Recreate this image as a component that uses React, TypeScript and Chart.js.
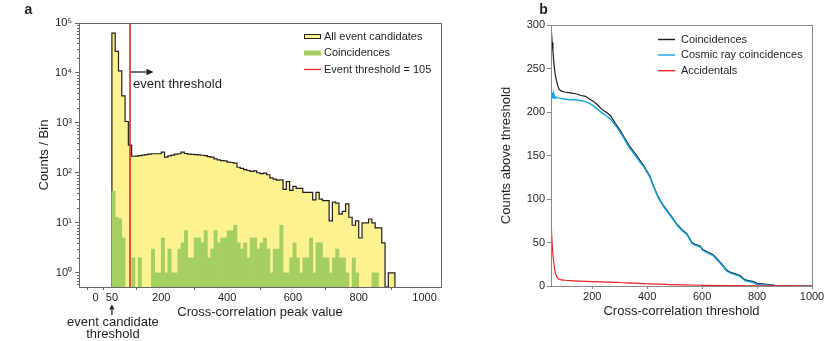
import React, { useEffect, useRef } from 'react';
import { Chart, registerables } from 'chart.js';

Chart.register(...registerables);

const FONT = '"Liberation Sans", Arial, Helvetica, sans-serif';
const TEXT = '#231f20';
const FRAME_A = '#666666';
const FRAME_B = '#8a8a8a';
const YELLOW = '#fcf290';
const GREEN = '#a6cf62';
const OUTLINE = '#231f20';
const RED = '#ec2227';
const BLUE = '#10a3e3';

Chart.defaults.font.family = FONT;
Chart.defaults.color = TEXT;

// ---------------- Panel a : histogram ----------------
const BIN_START = 50;
const BIN_WIDTH = 10;
const EVENT_THRESHOLD = 105;
const allCandidates = [
  63000, 27000, 11000, 3500, 1070, 360,
  216, 218, 223, 228, 233, 238, 242, 242, 242, 260,
  207, 220, 228, 238, 242, 260, 245, 238, 236, 232,
  230, 226, 223, 213, 207, 192, 182, 177, 175, 165,
  162, 157, 130, 124, 117, 112, 108, 110, 101, 97,
  99, 92, 80, 75, 72, 73, 47, 67, 45, 54,
  49, 49, 41, 41, 41, 29, 41, 30, 28, 28,
  11, 26, 25, 15, 17, 24, 13, 9, 11, 5,
  10, 10, 12, 10, 8, 8, 4, 0, 1, 1,
];
const coincidenceCounts = [
  43, 13, 12, 5, 0, 0, 2, 0, 2, 0,
  0, 0, 3, 1, 1, 5, 1, 3, 1, 1,
  3, 4, 7, 2, 2, 5, 5, 4, 7, 2,
  3, 7, 4, 5, 5, 7, 7, 9, 4, 3,
  4, 2, 5, 5, 3, 4, 5, 3, 1, 3,
  3, 9, 1, 1, 2, 4, 2, 1, 2, 2,
  5, 1, 4, 4, 2, 2, 1, 2, 3, 2,
  2, 1, 0, 2, 1, 0, 0, 0, 0, 1,
  1, 0, 0, 0, 0, 0,
];
const histXTicks = [0, 50, 200, 400, 600, 800, 1000];
const histYTicks = [1, 10, 100, 1000, 10000, 100000];
const histYTickLabels = ['10⁰', '10¹', '10²', '10³', '10⁴', '10⁵'];
const histMinorTicks = [0.6, 0.7, 0.8, 0.9, 2, 3, 4, 5, 6, 7, 8, 9, 20, 30, 40, 50, 60, 70, 80, 90,
  200, 300, 400, 500, 600, 700, 800, 900, 2000, 3000, 4000, 5000, 6000, 7000, 8000, 9000,
  20000, 30000, 40000, 50000, 60000, 70000, 80000, 90000];
const Y_MIN = 0.523;
const Y_MAX = 100000;

// ---------------- Panel b : cumulative counts ----------------
const coincT = [50, 54, 57, 60, 63, 66, 70, 75, 80, 88, 100, 120, 140, 160, 175, 190, 205, 220, 235, 250, 266, 284, 302, 320, 338, 357, 375, 390, 399, 410, 423, 441, 460, 484, 508, 526, 545, 563, 575, 593, 602, 620, 640, 655, 672, 690, 702, 720, 738, 757, 787, 800, 835, 860, 872, 1000];
const coincV = [300, 280, 270, 258, 249, 242, 236, 230, 226, 224, 223, 222, 221, 219, 218, 215, 212, 208, 203, 200, 196, 187, 179, 169, 160, 152, 144, 137, 132, 126, 115, 102, 92, 82, 71, 65, 60, 50, 48, 46, 42, 39, 36, 31, 25, 18, 16, 14, 12, 7, 5, 3, 2, 1, 0, 0];
const cosmicT = [50, 52, 54, 56, 58, 60, 63, 66, 70, 80, 100, 120, 140, 160, 175, 190, 205, 220, 235, 250, 266, 284, 302, 320, 338, 357, 375, 390, 399, 410, 423, 441, 460, 484, 508, 526, 545, 563, 575, 593, 602, 620, 640, 655, 672, 690, 702, 720, 738, 757, 787, 800, 835, 860, 866];
const cosmicV = [218, 223, 217, 222, 216, 221, 218, 216, 217, 216, 215, 214, 214, 213, 212, 210, 207, 203, 199, 196, 192, 185, 177, 167, 158, 150, 142, 136, 131, 125, 114, 101, 91, 81, 70, 64, 59, 49, 47, 45, 41, 38, 35, 30, 24, 17, 15, 13, 11, 6, 4, 2, 1, 1, 0];
const accT = [50, 52, 54, 57, 60, 63, 66, 70, 75, 80, 90, 100, 130, 200, 250, 300, 350, 400, 470, 530, 600, 700, 800, 900, 1000];
const accV = [80, 62, 50, 36, 27, 20, 15, 11.5, 9, 7.8, 7, 6.6, 6, 5, 4.5, 4, 3.2, 2.6, 1.8, 1.2, 0.8, 0.4, 0.15, 0.05, 0];
const rightXTicks = [200, 400, 600, 800, 1000];
const rightYTicks = [0, 50, 100, 150, 200, 250, 300];

function drawArrow(ctx: CanvasRenderingContext2D, x1: number, y1: number, x2: number, y2: number, head: number, halfW: number) {
  const ang = Math.atan2(y2 - y1, x2 - x1);
  const bx = x2 - head * Math.cos(ang);
  const by = y2 - head * Math.sin(ang);
  ctx.beginPath();
  ctx.moveTo(x1, y1);
  ctx.lineTo(bx, by);
  ctx.stroke();
  ctx.beginPath();
  ctx.moveTo(x2, y2);
  ctx.lineTo(bx + halfW * Math.sin(ang), by - halfW * Math.cos(ang));
  ctx.lineTo(bx - halfW * Math.sin(ang), by + halfW * Math.cos(ang));
  ctx.closePath();
  ctx.fill();
}

const panelAPlugin = {
  id: 'panelA',
  afterDraw(chart: any) {
    const { ctx, chartArea: ca, scales } = chart;
    const x = scales.x;
    const y = scales.y;
    ctx.save();
    // frame
    ctx.strokeStyle = FRAME_A;
    ctx.lineWidth = 1;
    ctx.strokeRect(Math.floor(ca.left) + 0.5, Math.floor(ca.top) + 0.5, Math.round(ca.right - ca.left), Math.round(ca.bottom - ca.top));
    // minor log ticks
    ctx.beginPath();
    histMinorTicks.forEach((v) => {
      const py = Math.round(y.getPixelForValue(v)) + 0.5;
      ctx.moveTo(ca.left - 2, py);
      ctx.lineTo(ca.left, py);
    });
    ctx.stroke();

    // legend
    const ds = chart.data.datasets;
    const lx = 304;
    ctx.font = `11px ${FONT}`;
    ctx.textBaseline = 'middle';
    ctx.textAlign = 'left';
    ctx.fillStyle = YELLOW;
    ctx.fillRect(lx, 34, 17, 5);
    ctx.strokeStyle = OUTLINE;
    ctx.strokeRect(lx + 0.5, 34.5, 16, 4);
    ctx.fillStyle = TEXT;
    ctx.fillText(ds[0].label, 324, 36.5);
    ctx.fillStyle = GREEN;
    ctx.fillRect(lx, 50.5, 17, 5);
    ctx.fillStyle = TEXT;
    ctx.fillText(ds[1].label, 324, 53);
    ctx.strokeStyle = RED;
    ctx.lineWidth = 1.3;
    ctx.beginPath();
    ctx.moveTo(lx, 69.5);
    ctx.lineTo(lx + 17, 69.5);
    ctx.stroke();
    ctx.fillStyle = TEXT;
    ctx.fillText(ds[2].label, 324, 69.5);

    // event threshold annotation
    const tx = x.getPixelForValue(EVENT_THRESHOLD);
    ctx.strokeStyle = TEXT;
    ctx.fillStyle = TEXT;
    ctx.lineWidth = 1.3;
    drawArrow(ctx, tx + 1, 72, tx + 23.5, 72, 7, 3.3);
    ctx.font = `13px ${FONT}`;
    ctx.textBaseline = 'alphabetic';
    ctx.fillText('event threshold', tx + 3, 87.5);

    // event candidate threshold annotation
    const cx = x.getPixelForValue(BIN_START);
    ctx.lineWidth = 1.2;
    drawArrow(ctx, cx, ca.bottom + 28, cx, ca.bottom + 17.5, 5, 2.6);
    ctx.textAlign = 'center';
    ctx.textBaseline = 'middle';
    ctx.fillText('event candidate', cx + 1, 322);
    ctx.fillText('threshold', cx + 1, 334.5);

    // panel label
    ctx.font = `bold 14px ${FONT}`;
    ctx.textAlign = 'center';
    ctx.textBaseline = 'alphabetic';
    ctx.fillText('a', 28.5, 13.5);
    ctx.restore();
  },
};

const panelBPlugin = {
  id: 'panelB',
  afterDraw(chart: any) {
    const { ctx, chartArea: ca } = chart;
    ctx.save();
    ctx.strokeStyle = FRAME_B;
    ctx.lineWidth = 1;
    ctx.strokeRect(Math.floor(ca.left) + 0.5, Math.floor(ca.top) + 0.5, Math.round(ca.right - ca.left), Math.round(ca.bottom - ca.top));
    const ds = chart.data.datasets;
    const rows = [39.5, 55, 70.7];
    ctx.font = `11px ${FONT}`;
    ctx.textBaseline = 'middle';
    ctx.textAlign = 'left';
    ds.forEach((d: any, i: number) => {
      ctx.strokeStyle = d.borderColor;
      ctx.lineWidth = 1.4;
      ctx.beginPath();
      ctx.moveTo(198, rows[i]);
      ctx.lineTo(215, rows[i]);
      ctx.stroke();
      ctx.fillStyle = TEXT;
      ctx.fillText(d.label, 221, rows[i]);
    });
    ctx.font = `bold 14px ${FONT}`;
    ctx.textAlign = 'center';
    ctx.textBaseline = 'alphabetic';
    ctx.fillStyle = TEXT;
    ctx.fillText('b', 83.5, 13.5);
    ctx.restore();
  },
};

export default function App() {
  const refA = useRef<HTMLCanvasElement>(null);
  const refB = useRef<HTMLCanvasElement>(null);

  useEffect(() => {
    const edges = allCandidates.map((_, i) => BIN_START + i * BIN_WIDTH);
    const outline = [
      { x: edges[0], y: Y_MIN },
      ...allCandidates.map((v, i) => ({ x: edges[i], y: v > 0 ? v : Y_MIN })),
      { x: edges[edges.length - 1] + BIN_WIDTH, y: Y_MIN },
    ];
    const greenBars = coincidenceCounts.map((v, i) => ({ x: edges[i] + BIN_WIDTH / 2, y: v > 0 ? v : null }));

    const tickFont = { size: 11, family: FONT };
    const titleFont = { size: 13, family: FONT };

    const chartA = new Chart(refA.current as HTMLCanvasElement, {
      type: 'line',
      data: {
        datasets: [
          {
            type: 'line',
            label: 'All event candidates',
            data: outline,
            stepped: 'before',
            borderColor: OUTLINE,
            borderWidth: 1.2,
            backgroundColor: YELLOW,
            fill: 'start',
            pointRadius: 0,
            order: 2,
          },
          {
            type: 'bar',
            label: 'Coincidences',
            data: greenBars,
            backgroundColor: GREEN,
            borderWidth: 0,
            barPercentage: 1,
            categoryPercentage: 1,
            grouped: false,
            order: 1,
          },
          {
            type: 'line',
            label: `Event threshold = ${EVENT_THRESHOLD}`,
            data: [{ x: EVENT_THRESHOLD, y: Y_MIN }, { x: EVENT_THRESHOLD, y: Y_MAX }],
            borderColor: RED,
            borderWidth: 1.6,
            pointRadius: 0,
            fill: false,
            order: 0,
          },
        ],
      } as any,
      options: {
        responsive: false,
        animation: false,
        events: [],
        layout: { padding: { left: 0, right: 19, top: 23, bottom: 0 } },
        plugins: { legend: { display: false }, tooltip: { enabled: false } },
        scales: {
          x: {
            type: 'linear',
            min: -50,
            max: 1050,
            bounds: 'data',
            offset: false,
            afterBuildTicks: (s: any) => { s.ticks = histXTicks.map((v) => ({ value: v })); },
            afterFit: (s: any) => { s.height = 54; },
            grid: { drawOnChartArea: false, drawTicks: true, tickLength: 3, color: FRAME_A, lineWidth: 1 },
            border: { display: false },
            ticks: { padding: 1, color: TEXT, font: tickFont, maxRotation: 0, autoSkip: false, callback: (v: any) => String(v) },
            title: { display: true, text: 'Cross-correlation peak value', color: TEXT, font: titleFont, padding: { top: 0, bottom: 21 } },
          },
          y: {
            type: 'logarithmic',
            min: Y_MIN,
            max: Y_MAX,
            bounds: 'data',
            afterBuildTicks: (s: any) => { s.ticks = histYTicks.map((v) => ({ value: v })); },
            afterFit: (s: any) => { s.width = 79; },
            grid: { drawOnChartArea: false, drawTicks: true, tickLength: 4, color: FRAME_A, lineWidth: 1 },
            border: { display: false },
            ticks: {
              padding: 3, color: TEXT, font: tickFont, autoSkip: false,
              callback: (v: any) => { const i = histYTicks.indexOf(Number(v)); return i >= 0 ? histYTickLabels[i] : ''; },
            },
            title: { display: true, text: 'Counts / Bin', color: TEXT, font: titleFont, padding: { top: 37, bottom: 0 } },
          },
        },
      } as any,
      plugins: [panelAPlugin],
    });

    const chartB = new Chart(refB.current as HTMLCanvasElement, {
      type: 'line',
      data: {
        datasets: [
          {
            label: 'Coincidences',
            data: coincT.map((t, i) => ({ x: t, y: coincV[i] })),
            borderColor: '#1a1a1a',
            borderWidth: 1.2,
            pointRadius: 0,
            fill: false,
            order: 2,
          },
          {
            label: 'Cosmic ray coincidences',
            data: cosmicT.map((t, i) => ({ x: t, y: cosmicV[i] })),
            borderColor: BLUE,
            borderWidth: 1.4,
            pointRadius: 0,
            fill: false,
            order: 1,
          },
          {
            label: 'Accidentals',
            data: accT.map((t, i) => ({ x: t, y: accV[i] })),
            borderColor: RED,
            borderWidth: 1.2,
            pointRadius: 0,
            fill: false,
            cubicInterpolationMode: 'monotone',
            order: 0,
          },
        ],
      } as any,
      options: {
        responsive: false,
        animation: false,
        events: [],
        layout: { padding: { left: 0, right: 18, top: 25, bottom: 0 } },
        plugins: { legend: { display: false }, tooltip: { enabled: false } },
        scales: {
          x: {
            type: 'linear',
            min: 50,
            max: 1000,
            bounds: 'data',
            afterBuildTicks: (s: any) => { s.ticks = rightXTicks.map((v) => ({ value: v })); },
            afterFit: (s: any) => { s.height = 55; },
            grid: { drawOnChartArea: false, drawTicks: true, tickLength: 3, color: FRAME_B },
            border: { display: false },
            ticks: { padding: 1, color: TEXT, font: tickFont, maxRotation: 0, autoSkip: false, callback: (v: any) => String(v) },
            title: { display: true, text: 'Cross-correlation threshold', color: TEXT, font: titleFont, padding: { top: 0, bottom: 22 } },
          },
          y: {
            type: 'linear',
            min: 0,
            max: 300,
            bounds: 'data',
            afterBuildTicks: (s: any) => { s.ticks = rightYTicks.map((v) => ({ value: v })); },
            afterFit: (s: any) => { s.width = 91; },
            grid: { drawOnChartArea: false, drawTicks: true, tickLength: 4, color: FRAME_B },
            border: { display: false },
            ticks: { padding: 2, color: TEXT, font: tickFont, autoSkip: false, callback: (v: any) => String(v) },
            title: { display: true, text: 'Counts above threshold', color: TEXT, font: titleFont, padding: { top: 39, bottom: 0 } },
          },
        },
      } as any,
      plugins: [panelBPlugin],
    });

    return () => {
      chartA.destroy();
      chartB.destroy();
    };
  }, []);

  return (
    <div style={{ position: 'absolute', left: 0, top: 0, width: 830, height: 341, background: '#ffffff', overflow: 'hidden' }}>
      <canvas ref={refA} width={460} height={341} style={{ position: 'absolute', left: 0, top: 0 }} />
      <canvas ref={refB} width={370} height={341} style={{ position: 'absolute', left: 460, top: 0 }} />
    </div>
  );
}
